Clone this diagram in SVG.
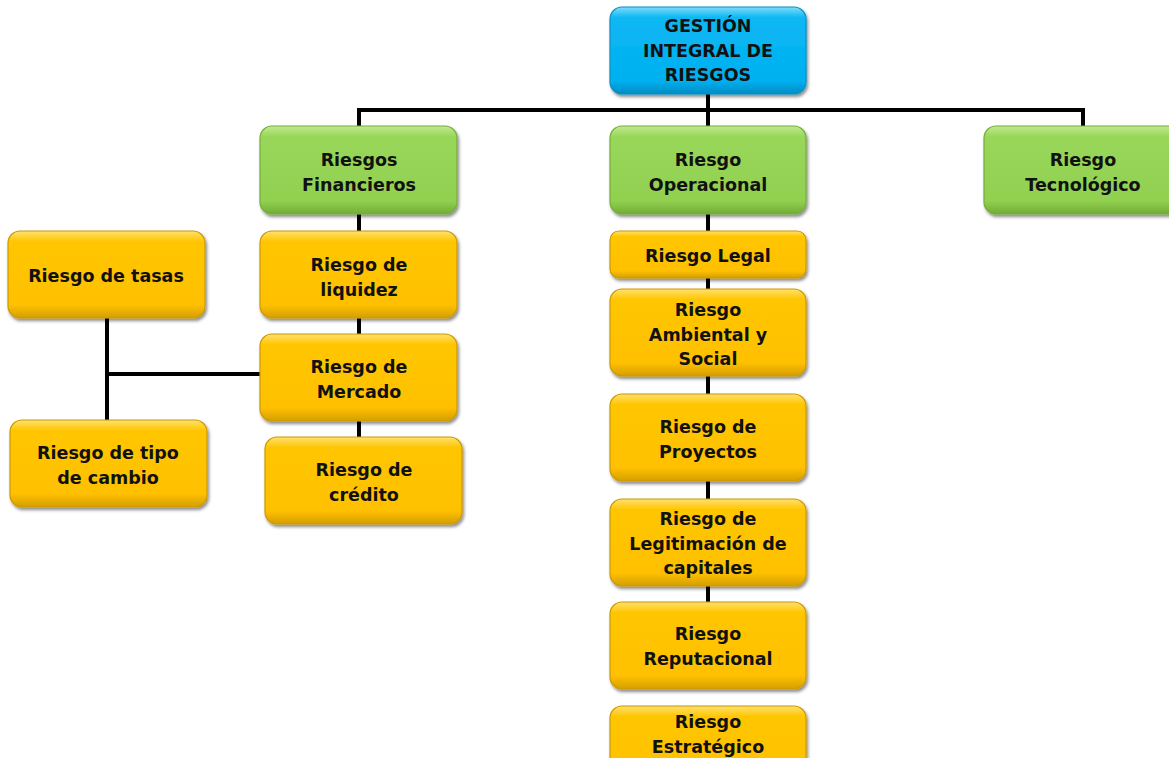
<svg xmlns="http://www.w3.org/2000/svg" width="1169" height="758" viewBox="0 0 1169 758">
<defs>
<linearGradient id="gY" x1="0" y1="0" x2="0" y2="1">
<stop offset="0" stop-color="#FFE070"/><stop offset="0.12" stop-color="#FFC600"/><stop offset="0.85" stop-color="#FFC000"/><stop offset="1" stop-color="#D49E00"/>
</linearGradient>
<linearGradient id="gG" x1="0" y1="0" x2="0" y2="1">
<stop offset="0" stop-color="#C2EA90"/><stop offset="0.12" stop-color="#98D75A"/><stop offset="0.85" stop-color="#92D050"/><stop offset="1" stop-color="#72AC36"/>
</linearGradient>
<linearGradient id="gB" x1="0" y1="0" x2="0" y2="1">
<stop offset="0" stop-color="#7FDCFA"/><stop offset="0.12" stop-color="#0CB8F4"/><stop offset="0.85" stop-color="#00B0F0"/><stop offset="1" stop-color="#008CC4"/>
</linearGradient>
<filter id="sh" x="-10%" y="-10%" width="130%" height="140%">
<feDropShadow dx="1.5" dy="2.5" stdDeviation="1.8" flood-color="#000" flood-opacity="0.45"/>
</filter>
</defs>
<style>
.y{fill:url(#gY);stroke:#CC9A00;stroke-width:1.2;filter:url(#sh)}
.g{fill:url(#gG);stroke:#74AE3A;stroke-width:1.2;filter:url(#sh)}
.b{fill:url(#gB);stroke:#0A90C4;stroke-width:1.2;filter:url(#sh)}
text{font-family:"DejaVu Sans","Liberation Sans",sans-serif;font-weight:bold;font-size:17.5px;fill:#111;text-anchor:middle}
.c line,.c path{stroke:#000;stroke-width:4;fill:none}
</style>
<g class="c" id="connectors">
<line x1="708" y1="94" x2="708" y2="128"/>
<path d="M359 128 V110 H1083 V128"/>
<line x1="359" y1="214" x2="359" y2="232"/>
<line x1="359" y1="318" x2="359" y2="335"/>
<line x1="359" y1="421" x2="359" y2="438"/>
<line x1="107" y1="318" x2="107" y2="421"/>
<line x1="105" y1="374" x2="261" y2="374"/>
<line x1="708" y1="214" x2="708" y2="603"/>
</g>
<g id="root"><rect class="b" x="610" y="7" width="196" height="87" rx="12"/><text x="708" y="32">GESTIÓN</text><text x="708" y="57">INTEGRAL DE</text><text x="708" y="81">RIESGOS</text></g>
<g id="financieros"><rect class="g" x="260" y="126" width="197" height="88" rx="12"/><text x="359" y="166">Riesgos</text><text x="359" y="191">Financieros</text></g>
<g id="operacional"><rect class="g" x="610" y="126" width="196" height="88" rx="12"/><text x="708" y="166">Riesgo</text><text x="708" y="191">Operacional</text></g>
<g id="tecnologico"><rect class="g" x="984" y="126" width="197" height="88" rx="12"/><text x="1083" y="166">Riesgo</text><text x="1083" y="191">Tecnológico</text></g>
<g id="tasas"><rect class="y" x="8" y="231" width="197" height="87" rx="12"/><text x="106" y="282">Riesgo de tasas</text></g>
<g id="liquidez"><rect class="y" x="260" y="231" width="197" height="87" rx="12"/><text x="359" y="271">Riesgo de</text><text x="359" y="296">liquidez</text></g>
<g id="mercado"><rect class="y" x="260" y="334" width="197" height="87" rx="12"/><text x="359" y="373">Riesgo de</text><text x="359" y="398">Mercado</text></g>
<g id="credito"><rect class="y" x="265" y="437" width="197" height="87" rx="12"/><text x="364" y="476">Riesgo de</text><text x="364" y="501">crédito</text></g>
<g id="cambio"><rect class="y" x="10" y="420" width="197" height="87" rx="12"/><text x="108" y="459">Riesgo de tipo</text><text x="108" y="484">de cambio</text></g>
<g id="legal"><rect class="y" x="610" y="231" width="196" height="47" rx="9"/><text x="708" y="262">Riesgo Legal</text></g>
<g id="ambiental"><rect class="y" x="610" y="289" width="196" height="87" rx="12"/><text x="708" y="316">Riesgo</text><text x="708" y="341">Ambiental y</text><text x="708" y="365">Social</text></g>
<g id="proyectos"><rect class="y" x="610" y="394" width="196" height="87" rx="12"/><text x="708" y="433">Riesgo de</text><text x="708" y="458">Proyectos</text></g>
<g id="legitimacion"><rect class="y" x="610" y="499" width="196" height="87" rx="12"/><text x="708" y="525">Riesgo de</text><text x="708" y="550">Legitimación de</text><text x="708" y="574">capitales</text></g>
<g id="reputacional"><rect class="y" x="610" y="602" width="196" height="87" rx="12"/><text x="708" y="640">Riesgo</text><text x="708" y="665">Reputacional</text></g>
<g id="estrategico"><rect class="y" x="610" y="706" width="196" height="87" rx="12"/><text x="708" y="728">Riesgo</text><text x="708" y="753">Estratégico</text></g>
</svg>
